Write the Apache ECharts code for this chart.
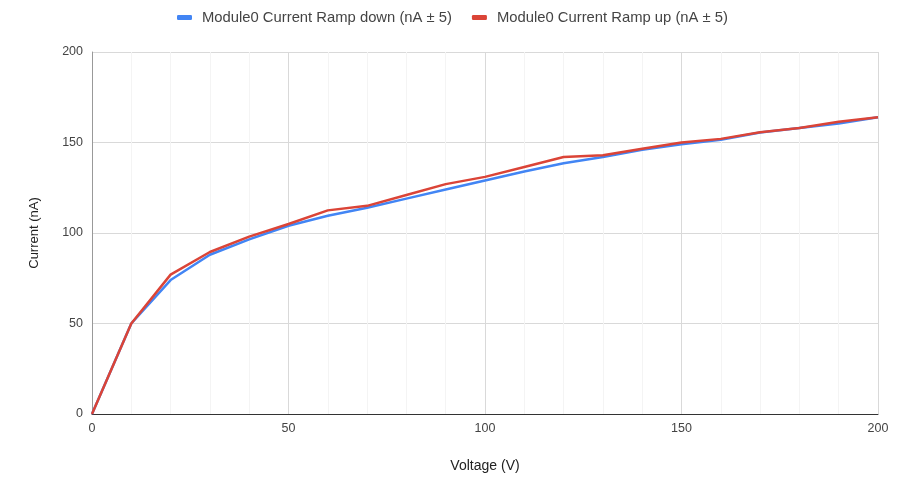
<!DOCTYPE html>
<html>
<head>
<meta charset="utf-8">
<script src="https://cdn.jsdelivr.net/npm/echarts@6/dist/echarts.min.js"></script>
<style>
  html, body { margin: 0; padding: 0; background: #fff; }
  #main { width: 908px; height: 478px; }
</style>
</head>
<body>
<div id="main"></div>
<script>
// voltage steps (V)
var voltage = [0, 10, 20, 30, 40, 50, 60, 70, 80, 90, 100, 110, 120, 130, 140, 150, 160, 170, 180, 190, 200];
// current readings (nA)
var rampDown = [0, 50, 74, 88, 96.5, 104, 109.5, 114, 119, 124, 129, 134, 138.5, 142, 146, 149, 151.5, 155.5, 158, 160.5, 164];
var rampUp = [0, 50, 77, 89.5, 98, 105, 112.5, 115, 121, 127, 131, 136.5, 142, 143, 146.5, 150, 152, 155.7, 158, 161.5, 164];
var seriesNames = ['Module0 Current Ramp down (nA \u00b1 5)', 'Module0 Current Ramp up (nA \u00b1 5)'];

function pairs(ys) {
  var out = [];
  for (var i = 0; i < voltage.length; i++) {
    out.push([voltage[i], ys[i]]);
  }
  return out;
}

var chart = echarts.init(document.getElementById('main'));
var font = '"Liberation Sans", Arial, sans-serif';

chart.setOption({
  animation: false,
  textStyle: { fontFamily: font },
  legend: {
    top: 5,
    left: 172,
    itemWidth: 15,
    itemHeight: 5,
    itemGap: 20,
    icon: 'roundRect',
    textStyle: { fontSize: 14.8, color: '#444', fontFamily: font, padding: [0, 0, 0, 5] },
    data: seriesNames
  },
  grid: {
    left: 92,
    right: 30,
    top: 52,
    bottom: 63,
    containLabel: false
  },
  xAxis: {
    type: 'value',
    min: 0,
    max: 200,
    interval: 50,
    name: 'Voltage (V)',
    nameLocation: 'middle',
    nameGap: 45,
    nameTextStyle: { fontSize: 14, color: '#222', fontFamily: font },
    axisLine: { lineStyle: { color: '#333', width: 1 } },
    axisTick: { show: false },
    axisLabel: { fontSize: 12.5, color: '#444', margin: 8 },
    splitLine: { lineStyle: { color: '#d9d9d9', width: 1 } },
    minorTick: { show: false, splitNumber: 5 },
    minorSplitLine: { show: true, lineStyle: { color: '#f4f4f4', width: 1 } }
  },
  yAxis: {
    type: 'value',
    min: 0,
    max: 200,
    interval: 50,
    name: 'Current (nA)',
    nameLocation: 'middle',
    nameGap: 51,
    nameRotate: 90,
    nameTextStyle: { fontSize: 13, color: '#222', fontFamily: font },
    axisLine: { show: true, lineStyle: { color: '#999', width: 1 } },
    axisTick: { show: false },
    axisLabel: { fontSize: 12.5, color: '#444', margin: 9 },
    splitLine: { lineStyle: { color: '#d9d9d9', width: 1 } }
  },
  series: [
    {
      name: seriesNames[0],
      type: 'line',
      data: pairs(rampDown),
      showSymbol: false,
      color: '#4285f4',
      lineStyle: { width: 2.5 }
    },
    {
      name: seriesNames[1],
      type: 'line',
      data: pairs(rampUp),
      showSymbol: false,
      color: '#db4437',
      lineStyle: { width: 2.5 }
    }
  ]
});
</script>
</body>
</html>
